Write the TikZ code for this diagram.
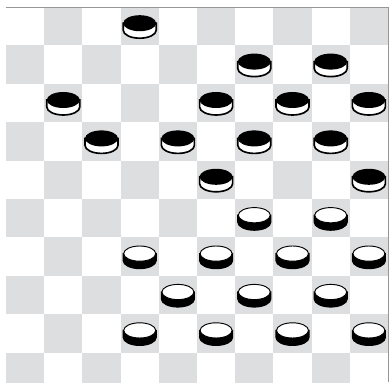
\documentclass[tikz,border=0pt]{standalone}
\usepackage{tikz}
\definecolor{boardgray}{RGB}{221,222,224}
\definecolor{edgegray}{RGB}{150,150,152}
\tikzset{
  darksq/.style={fill=boardgray},
  boardedge/.style={draw=edgegray,line width=0.7pt},
  blackman/.pic={
    \path[fill=white,draw=black,line width=1.4pt]
      (-16.5,0) -- (-16.5,-7) arc[start angle=180,end angle=360,x radius=16.5,y radius=8] -- (16.5,0) -- cycle;
    \path[fill=black] (0,0) ellipse[x radius=16.5,y radius=8];
  },
  whiteman/.pic={
    \path[fill=black,draw=black,line width=1pt]
      (-16.5,0) -- (-16.5,-7) arc[start angle=180,end angle=360,x radius=16.5,y radius=8] -- (16.5,0) -- cycle;
    \path[fill=white,draw=black,line width=0.8pt] (0,0) ellipse[x radius=16,y radius=7.6];
  }
}

\begin{document}
\begin{tikzpicture}[x=0.3mm,y=0.3mm]
  \useasboundingbox (0,0) rectangle (390,382);
  \clip (0,0) rectangle (390,382);
  % dark squares
  \foreach \r in {0,...,9}
    \foreach \k in {0,...,4}{
      \pgfmathtruncatemacro\c{2*\k+1-mod(\r,2)}
      \fill[darksq] ({6+38.2*\c},{375-38.4*\r}) rectangle ++(38.2,-38.4);
    }
  \draw[boardedge] (6,375) -- (388,375) -- (388,0);
  % black men
  \foreach \c/\r in {3/0,6/1,8/1,1/2,5/2,7/2,9/2,2/3,4/3,6/3,8/3,5/4,9/4}
    \pic at ({6+38.2*(\c+0.5)},{375-38.4*(\r+0.5)+3}) {blackman};
  % white men
  \foreach \c/\r in {6/5,8/5,3/6,5/6,7/6,9/6,4/7,6/7,8/7,3/8,5/8,7/8,9/8}
    \pic at ({6+38.2*(\c+0.5)},{375-38.4*(\r+0.5)+3}) {whiteman};
\end{tikzpicture}
\end{document}
